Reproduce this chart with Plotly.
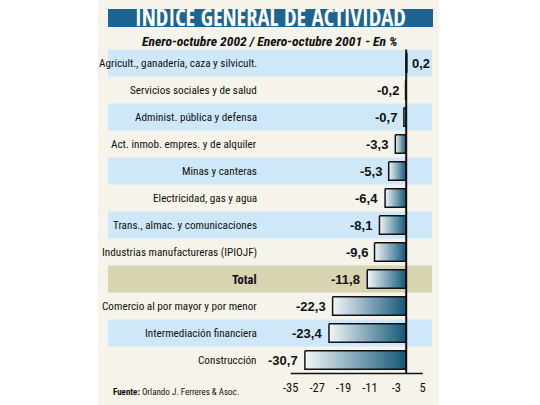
import plotly.graph_objects as go

categories = [
    "Agricult., ganadería, caza y silvicult.",
    "Servicios sociales y de salud",
    "Administ. pública y defensa",
    "Act. inmob. empres. y de alquiler",
    "Minas y canteras",
    "Electricidad, gas y agua",
    "Trans., almac. y comunicaciones",
    "Industrias manufactureras (IPIOJF)",
    "Total",
    "Comercio al por mayor y por menor",
    "Intermediación financiera",
    "Construcción",
]
values = [0.2, -0.2, -0.7, -3.3, -5.3, -6.4, -8.1, -9.6, -11.8, -22.3, -23.4, -30.7]
tick_vals = [-35, -27, -19, -11, -3, 5]
tick_text = ["-35", "-27", "-19", "-11", "-3", "5"]
row_fill = ["#cfe8f9", None, "#cfe8f9", None, "#cfe8f9", None, "#cfe8f9", None,
            "#d8d3b1", None, "#cfe8f9", None]

W, H = 540, 405
COND = "Roboto Condensed, DejaVu Sans Condensed, sans-serif"
TITLEF = "Open Sans Condensed, Roboto Condensed, sans-serif"
VALF = "Liberation Sans, Arial, sans-serif"
px_per_unit = 3.3
zero_px = 406.2
plot_left, plot_right = 108, 432
plot_top, plot_bottom = 49.5, 373.5
x_min = (plot_left - zero_px) / px_per_unit
x_max = (plot_right - zero_px) / px_per_unit

fig = go.Figure()
half = 0.34
for i, v in enumerate(values):
    x0, x1 = min(v, 0), max(v, 0)
    fig.add_trace(go.Scatter(
        x=[x0, x1, x1, x0, x0],
        y=[i - half, i - half, i + half, i + half, i - half],
        mode="lines", fill="toself",
        fillgradient=dict(type="horizontal",
                          colorscale=[[0, "#f2f6f8"], [1, "#145779"]]),
        line=dict(color="#111111", width=1.5),
        hoverinfo="skip", showlegend=False,
    ))

shapes = []
shapes.append(dict(type="rect", xref="paper", yref="paper", x0=98 / W, x1=439 / W,
                   y0=0, y1=1, fillcolor="#f6f4ea", line=dict(width=0), layer="below"))
shapes.append(dict(type="rect", xref="paper", yref="paper", x0=108 / W, x1=433 / W,
                   y0=1 - 27 / H, y1=1 - 9 / H, fillcolor="#1e6490",
                   line=dict(width=0), layer="below"))
for i, c in enumerate(row_fill):
    if c:
        shapes.append(dict(type="rect", xref="x domain", yref="y", x0=0, x1=1,
                           y0=i - 0.5, y1=i + 0.5, fillcolor=c,
                           line=dict(width=0), layer="below"))
shapes.append(dict(type="line", xref="x", yref="y domain", x0=0, x1=0, y0=0, y1=1,
                   line=dict(color="#111111", width=2)))
shapes.append(dict(type="line", xref="x", yref="y domain", x0=min(tick_vals),
                   x1=max(tick_vals), y0=0, y1=0, line=dict(color="#111111", width=1.5)))

annotations = []
for i, (cat, v) in enumerate(zip(categories, values)):
    bold = cat == "Total"
    annotations.append(dict(
        x=259 / W, xref="paper", y=i, yref="y", xanchor="right", yanchor="middle",
        text=f"<b>{cat}</b>" if bold else cat, showarrow=False,
        font=dict(family=COND, size=11.2 if not bold else 12.5, color="#111111"),
    ))
    label = f"{v:.1f}".replace(".", ",")
    if v >= 0:
        annotations.append(dict(x=v, y=i, xref="x", yref="y", xanchor="left",
                                yanchor="middle", xshift=3, text=f"<b>{label}</b>",
                                showarrow=False,
                                font=dict(family=VALF, size=13, color="#111111")))
    else:
        annotations.append(dict(x=v, y=i, xref="x", yref="y", xanchor="right",
                                yanchor="middle", xshift=-5, text=f"<b>{label}</b>",
                                showarrow=False,
                                font=dict(family=VALF, size=13, color="#111111")))

annotations.append(dict(x=270.5 / W, y=1 - 18 / H, xref="paper", yref="paper",
                        xanchor="center", yanchor="middle", showarrow=False,
                        text="<b>INDICE GENERAL DE ACTIVIDAD</b>",
                        font=dict(family=TITLEF, size=22.5, color="white")))
annotations.append(dict(x=270 / W, y=1 - 41 / H, xref="paper", yref="paper",
                        xanchor="center", yanchor="middle", showarrow=False,
                        text="<b><i>Enero-octubre 2002 / Enero-octubre 2001 - En %</i></b>",
                        font=dict(family=COND, size=13.6, color="#111111")))
annotations.append(dict(x=111 / W, y=1 - 392 / H, xref="paper", yref="paper",
                        xanchor="left", yanchor="middle", showarrow=False,
                        text="<b>Fuente:</b> Orlando J. Ferreres & Asoc.",
                        font=dict(family=COND, size=9, color="#111111")))

fig.update_layout(
    width=W, height=H, margin=dict(l=0, r=0, t=0, b=0),
    paper_bgcolor="white", plot_bgcolor="rgba(0,0,0,0)",
    shapes=shapes, annotations=annotations, showlegend=False,
    xaxis=dict(domain=[plot_left / W, plot_right / W], range=[x_min, x_max],
               tickvals=tick_vals, ticktext=tick_text, showgrid=False, zeroline=False,
               showline=False, ticks="outside", ticklen=2, tickcolor="rgba(0,0,0,0)",
               tickfont=dict(family=COND, size=12.5, color="#111111"), fixedrange=True),
    yaxis=dict(domain=[1 - plot_bottom / H, 1 - plot_top / H], range=[11.5, -0.5],
               showgrid=False, zeroline=False, showticklabels=False, showline=False,
               fixedrange=True),
)
fig.write_html("out.html")
